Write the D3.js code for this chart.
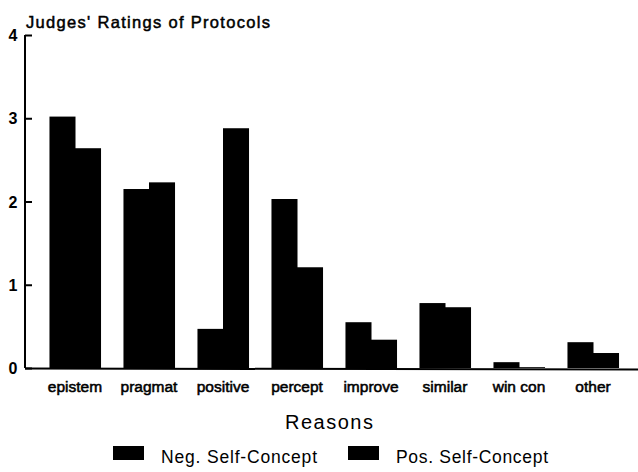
<!DOCTYPE html>
<html><head><meta charset="utf-8">
<script src="https://cdn.jsdelivr.net/npm/d3@7"></script>
<style>body{margin:0;background:#fff}svg{display:block}text{font-family:"Liberation Sans",Arial,sans-serif;fill:#000}</style>
</head><body>
<script>
const categories = ["epistem","pragmat","positive","percept","improve","similar","win con","other"];
const seriesNames = ["Neg. Self-Concept","Pos. Self-Concept"];
const negValues = [3.02, 2.15, 0.47, 2.03, 0.55, 0.78, 0.07, 0.31];
const posValues = [2.64, 2.23, 2.88, 1.21, 0.34, 0.73, 0.01, 0.18];
const yTicks = [0, 1, 2, 3, 4];
const title = "Judges' Ratings of Protocols";
const xTitle = "Reasons";

const W = 638, H = 472;
const svg = d3.select("body").append("svg").attr("width", W).attr("height", H);

const x = d3.scaleBand().domain(categories).range([38, 630]).paddingInner(0.31).paddingOuter(0.155);
const xs = d3.scaleBand().domain(seriesNames).range([0, x.bandwidth()]);
const y = d3.scaleLinear().domain([0, 4]).range([368, 35]);

const rows = categories.map((c, i) => ({cat: c, vals: [negValues[i], posValues[i]]}));

// bars
const g = svg.append("g");
g.selectAll("g.grp").data(rows).join("g")
  .attr("transform", d => `translate(${x(d.cat)},0)`)
  .selectAll("rect").data(d => d.vals.map((v, k) => ({v, s: seriesNames[k]})))
  .join("rect")
  .attr("x", d => xs(d.s))
  .attr("width", xs.bandwidth() + 0.5)
  .attr("y", d => y(d.v))
  .attr("height", d => y(0) - y(d.v))
  .attr("fill", "#000");

// y axis
const yAxis = d3.axisRight(y).tickValues(yTicks).tickSize(7).tickFormat(d3.format("d"));
const ya = svg.append("g").attr("transform", "translate(25,0)").call(yAxis);
ya.select(".domain").attr("stroke-width", 2).attr("d", `M0,${y(4)}V${y(0)}`);
ya.selectAll(".tick line").attr("stroke-width", 2);
ya.selectAll(".tick text").attr("x", -12).attr("text-anchor", "middle")
  .attr("font-size", 16).attr("font-weight", "bold").attr("dy", "0.35em");

// baseline x axis
svg.append("line").attr("x1", 25).attr("x2", 638).attr("y1", y(0) + 0.5).attr("y2", y(0) + 1.5)
  .attr("stroke", "#000").attr("stroke-width", 2);

// category labels
svg.append("g").selectAll("text").data(categories).join("text")
  .attr("x", d => x(d) + x.bandwidth() / 2)
  .attr("y", 392)
  .attr("text-anchor", "middle")
  .attr("font-size", 15.5).attr("stroke", "#000").attr("stroke-width", 0.55)
  .text(d => d);

// title
svg.append("text").attr("x", 26).attr("y", 28).attr("font-size", 16.5)
  .attr("stroke", "#000").attr("stroke-width", 0.5)
  .attr("textLength", 244).attr("lengthAdjust", "spacing").text(title);

// x title
svg.append("text").attr("x", 329).attr("y", 429).attr("text-anchor", "middle")
  .attr("font-size", 20).attr("textLength", 88).attr("lengthAdjust", "spacing").text(xTitle);

// legend
const legX = [113, 348], legTextW = [156, 152];
const leg = svg.append("g").selectAll("g").data(seriesNames).join("g");
leg.append("rect").attr("x", (d, i) => legX[i]).attr("y", 446).attr("width", 31).attr("height", 14).attr("fill", "#000");
leg.append("text").attr("x", (d, i) => legX[i] + 48).attr("y", 463)
  .attr("font-size", 17.5).attr("textLength", (d, i) => legTextW[i]).attr("lengthAdjust", "spacing")
  .text(d => d);
</script>
</body></html>
